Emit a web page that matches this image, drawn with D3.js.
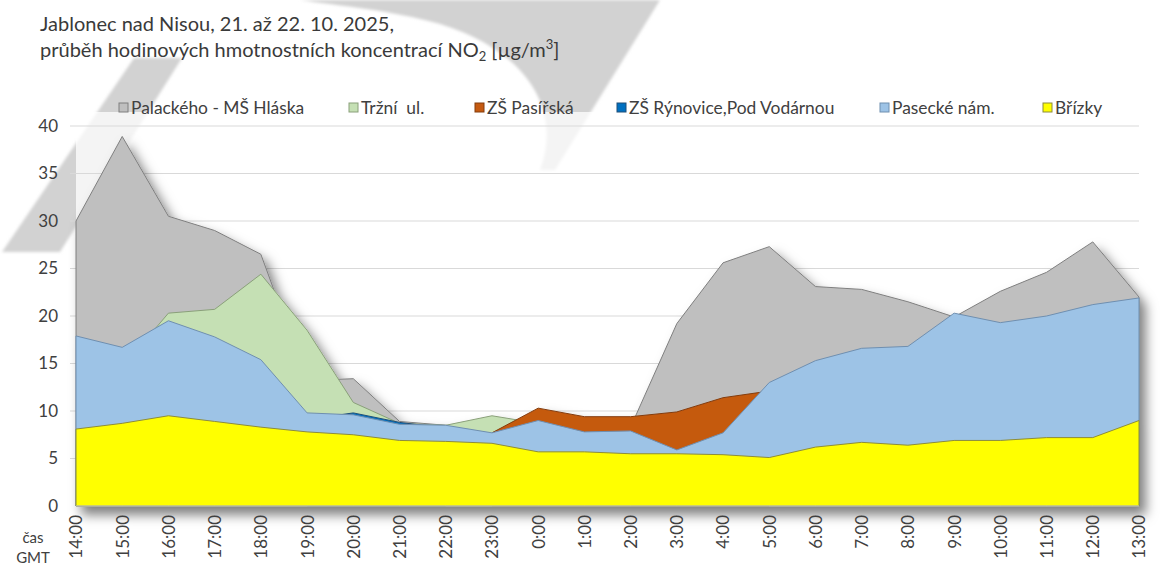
<!DOCTYPE html>
<html><head><meta charset="utf-8">
<script src="https://cdn.jsdelivr.net/npm/d3@7/dist/d3.min.js"></script>
<style>
body{margin:0;background:#fff;}
svg{display:block;font-family:Lato,"Open Sans",sans-serif;}
</style>
</head><body>
<svg id="chart" width="1166" height="572"></svg>
<script>
// ---------- data ----------
const hours = ["14:00","15:00","16:00","17:00","18:00","19:00","20:00","21:00","22:00","23:00","0:00","1:00","2:00","3:00","4:00","5:00","6:00","7:00","8:00","9:00","10:00","11:00","12:00","13:00"];
const seriesNames = ["Palackého - MŠ Hláska","Tržní  ul.","ZŠ Pasířská","ZŠ Rýnovice,Pod Vodárnou","Pasecké nám.","Břízky"];
const palackeho = [30.0,38.9,30.5,29.0,26.5,13.2,13.4,8.9,8.5,8.0,8.2,8.3,8.3,19.2,25.6,27.3,23.1,22.8,21.5,19.9,22.6,24.6,27.8,22.0];
const trzni     = [null,14.6,20.3,20.7,24.4,18.5,10.9,8.7,8.5,9.5,8.7,null,null,null,null,null,null,null,null,null,null,null,null,null];
const pasirska  = [null,null,null,null,null,null,null,null,null,7.7,10.3,9.4,9.4,9.9,11.4,12.1,null,null,null,null,null,null,null,null];
const rynovice  = [null,null,null,null,null,9.1,9.8,8.8,8.2,null,null,null,null,null,null,null,null,null,null,null,null,null,null,null];
const pasecke   = [17.9,16.7,19.5,17.8,15.4,9.8,9.6,8.6,8.5,7.7,9.0,7.8,7.9,5.9,7.7,13.0,15.3,16.6,16.8,20.3,19.3,20.0,21.2,21.9];
const brizky    = [8.1,8.7,9.5,8.9,8.3,7.8,7.5,6.9,6.8,6.6,5.7,5.7,5.5,5.5,5.4,5.1,6.2,6.7,6.4,6.9,6.9,7.2,7.2,9.0];
const yTicks = [0,5,10,15,20,25,30,35,40];

// ---------- style ----------
const fills   = ["#bfbfbf","#c5e0b4","#c55a11","#0070c0","#9dc3e6","#ffff00"];
const borders = ["#7f7f7f","#8aa07a","#843c0c","#1f4e79","#6f8fb0","#8c8c3c"];
const seriesData = [palackeho,trzni,pasirska,rynovice,pasecke,brizky];

const svg = d3.select("#chart");
const plot = {left:76, right:1139, top:126, bottom:506};

const x = d3.scalePoint().domain(hours).range([plot.left, plot.right]);
const y = d3.scaleLinear().domain([0,40]).range([plot.bottom, plot.top]);

const defs = svg.append("defs");
const f = defs.append("filter").attr("id","sh").attr("x","-10%").attr("y","-10%").attr("width","130%").attr("height","130%");
f.append("feDropShadow").attr("dx",6).attr("dy",8).attr("stdDeviation",6)
  .attr("flood-color","#000").attr("flood-opacity",0.5);
const wb = defs.append("filter").attr("id","wblur");
wb.append("feGaussianBlur").attr("stdDeviation",1.5);

// ---------- watermark ----------
const wm = svg.append("g").attr("fill","#d2d2d2").attr("filter","url(#wblur)");
wm.append("path").attr("d","M2,252 L60,252 L182,58 L134,58 Z");
wm.append("path").attr("d","M300,0 L660,0 L555,170 L540,170 C562,112 530,52 440,24 C390,10 340,6 300,0 Z");

// plot background (semi-transparent white)
svg.append("rect").attr("x",plot.left).attr("y",plot.top-14).attr("width",plot.right-plot.left+8)
  .attr("height",plot.bottom-plot.top+14).attr("fill","#fff").attr("opacity",0.75);

// gridlines
svg.append("g").selectAll("line").data(yTicks.filter(d=>d>0)).join("line")
  .attr("x1",plot.left-6).attr("x2",plot.right)
  .attr("y1",d=>y(d)).attr("y2",d=>y(d))
  .attr("stroke","#d9d9d9").attr("stroke-width",1.2);

// ---------- areas ----------
const area = d3.area()
  .defined(d=>d!=null)
  .x((d,i)=>x(hours[i]))
  .y0(y(0))
  .y1(d=>y(d));

const ag = svg.append("g").attr("filter","url(#sh)");
seriesData.forEach((vals,k)=>{
  ag.append("path").attr("d",area(vals))
    .attr("fill",fills[k]).attr("stroke",borders[k]).attr("stroke-width",1)
    .attr("stroke-linejoin","round");
});

// axis baseline
svg.append("line").attr("x1",plot.left).attr("x2",plot.right).attr("y1",plot.bottom).attr("y2",plot.bottom)
  .attr("stroke","#d0d0d0").attr("stroke-width",1);

// ---------- axes labels ----------
const yAxis = d3.axisLeft(y).tickValues(yTicks).tickSize(0).tickPadding(0);
const ya = svg.append("g").attr("transform",`translate(${plot.left-18},0)`).call(yAxis);
ya.select(".domain").remove();
ya.selectAll("text").attr("font-family","Lato,sans-serif").attr("font-size",17).attr("fill","#404040");

const xAxis = d3.axisBottom(x).tickSize(0).tickPadding(0);
const xa = svg.append("g").attr("transform",`translate(0,${plot.bottom})`).call(xAxis);
xa.select(".domain").remove();
xa.selectAll("text")
  .attr("font-family","Lato,sans-serif").attr("font-size",17).attr("fill","#404040")
  .attr("text-anchor","end").attr("dy","0.35em")
  .attr("transform","translate(0,9) rotate(-90)").attr("x",0).attr("y",0);

svg.append("text").attr("x",33).attr("y",543).attr("text-anchor","middle")
  .attr("font-size",15).attr("fill","#404040").text("čas");
svg.append("text").attr("x",33).attr("y",563).attr("text-anchor","middle")
  .attr("font-size",15).attr("fill","#404040").text("GMT");

// ---------- title ----------
const t = svg.append("text").attr("x",40).attr("y",31).attr("font-size",20).attr("fill","#3a3a3a");
t.text("Jablonec nad Nisou, 21. až 22. 10. 2025,");
const t2 = svg.append("text").attr("x",40).attr("y",57).attr("font-size",20).attr("fill","#3a3a3a");
t2.append("tspan").text("průběh hodinových hmotnostních koncentrací NO");
t2.append("tspan").attr("font-size",13).attr("dy",4).text("2");
t2.append("tspan").attr("dy",-4).text(" [µg/m");
t2.append("tspan").attr("font-size",13).attr("dy",-8).text("3");
t2.append("tspan").attr("dy",8).text("]");

// ---------- legend ----------
const legendX = [119,349,475,617,880,1043];
const lg = svg.append("g");
seriesNames.forEach((n,k)=>{
  lg.append("rect").attr("x",legendX[k]).attr("y",103).attr("width",9).attr("height",9)
    .attr("fill",fills[k]).attr("stroke",borders[k]).attr("stroke-width",1);
  lg.append("text").attr("x",legendX[k]+12).attr("y",114)
    .attr("font-size",17.4).attr("fill","#404040").style("white-space","pre").text(n);
});
</script>
</body></html>
